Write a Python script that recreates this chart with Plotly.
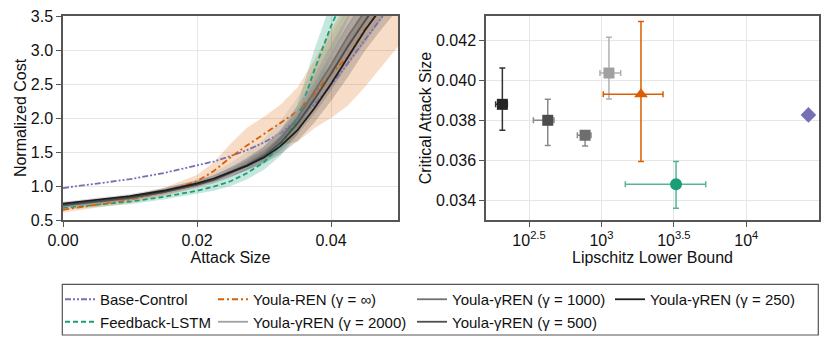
import plotly.graph_objects as go

# ---- left panel: normalized cost vs attack size ----
attack = [0, 0.005, 0.01, 0.015, 0.02, 0.0225, 0.025, 0.0275, 0.03, 0.0325,
          0.035, 0.0375, 0.04, 0.0425, 0.045, 0.0475, 0.05]

base_mean = [0.97, 1.03, 1.10, 1.19, 1.30, 1.36, 1.44, 1.53, 1.64, 1.78, 1.97, 2.20, 2.48, 2.80, 3.14, 3.47, 3.80]

lstm_mean = [0.68, 0.72, 0.77, 0.84, 0.93, 0.99, 1.07, 1.19, 1.35, 1.60, 1.98, 2.70, 3.35, 3.90, 4.40, 4.90, 5.40]
lstm_hi = [0.71, 0.75, 0.80, 0.88, 0.98, 1.05, 1.14, 1.27, 1.45, 1.75, 2.20, 3.00, 3.70, 4.20, 4.70, 5.20, 5.70]
lstm_lo = [0.65, 0.69, 0.73, 0.80, 0.88, 0.93, 1.00, 1.10, 1.24, 1.45, 1.75, 2.30, 2.90, 3.45, 3.90, 4.40, 4.90]

ren_mean = [0.65, 0.72, 0.80, 0.91, 1.07, 1.22, 1.42, 1.60, 1.76, 1.93, 2.10, 2.35, 2.65, 2.90, 3.30, 3.60, 3.90]
ren_hi = [0.69, 0.76, 0.85, 0.97, 1.16, 1.35, 1.62, 1.86, 2.02, 2.20, 2.45, 2.85, 3.30, 3.70, 4.00, 4.20, 4.40]
ren_lo = [0.61, 0.68, 0.75, 0.85, 0.98, 1.08, 1.20, 1.33, 1.48, 1.60, 1.65, 1.85, 2.00, 2.18, 2.45, 2.75, 3.05]

g2000_mean = [0.70, 0.75, 0.82, 0.91, 1.04, 1.13, 1.25, 1.39, 1.56, 1.80, 2.10, 2.50, 2.92, 3.35, 3.75, 4.10, 4.40]
g2000_hi = [0.73, 0.78, 0.86, 0.96, 1.10, 1.20, 1.34, 1.50, 1.69, 1.96, 2.30, 2.75, 3.20, 3.65, 4.10, 4.40, 4.70]
g2000_lo = [0.67, 0.72, 0.78, 0.87, 0.98, 1.06, 1.16, 1.28, 1.43, 1.63, 1.90, 2.25, 2.62, 3.02, 3.40, 3.75, 4.10]

g1000_mean = [0.71, 0.76, 0.82, 0.91, 1.02, 1.09, 1.20, 1.32, 1.47, 1.70, 2.00, 2.38, 2.78, 3.20, 3.58, 3.92, 4.25]
g1000_hi = [0.74, 0.79, 0.86, 0.95, 1.07, 1.15, 1.27, 1.42, 1.58, 1.84, 2.18, 2.62, 3.08, 3.50, 3.90, 4.20, 4.50]
g1000_lo = [0.68, 0.73, 0.79, 0.87, 0.97, 1.04, 1.13, 1.24, 1.37, 1.57, 1.83, 2.15, 2.50, 2.90, 3.30, 3.65, 4.00]

g500_mean = [0.72, 0.77, 0.83, 0.91, 1.02, 1.09, 1.19, 1.30, 1.44, 1.64, 1.92, 2.27, 2.65, 3.05, 3.42, 3.75, 4.10]
g500_hi = [0.75, 0.80, 0.86, 0.95, 1.06, 1.14, 1.26, 1.39, 1.55, 1.78, 2.10, 2.50, 2.92, 3.35, 3.75, 4.10, 4.40]
g500_lo = [0.69, 0.74, 0.80, 0.88, 0.98, 1.04, 1.13, 1.23, 1.35, 1.52, 1.76, 2.06, 2.40, 2.78, 3.10, 3.45, 3.80]

g250_mean = [0.74, 0.79, 0.85, 0.93, 1.04, 1.11, 1.20, 1.30, 1.42, 1.59, 1.82, 2.14, 2.50, 2.90, 3.28, 3.62, 3.95]
g250_hi = [0.77, 0.82, 0.88, 0.97, 1.08, 1.16, 1.27, 1.39, 1.53, 1.74, 2.02, 2.38, 2.78, 3.20, 3.60, 3.95, 4.30]
g250_lo = [0.71, 0.76, 0.82, 0.90, 1.00, 1.06, 1.14, 1.23, 1.33, 1.47, 1.66, 1.93, 2.25, 2.60, 2.98, 3.30, 3.60]

# ---- right panel: critical attack size vs Lipschitz lower bound ----
models = ["γ250", "γ500", "γ1000", "γ2000", "REN", "LSTM", "Base"]
lip = [207, 426, 771, 1127, 1875, 3273, 26850]
lip_lo = [186, 339, 682, 977, 1030, 1462, 26850]
lip_hi = [224, 470, 847, 1358, 2661, 5248, 26850]
crit = [0.03881, 0.03801, 0.03726, 0.04038, 0.03931, 0.03480, 0.03828]
crit_lo = [0.03751, 0.03674, 0.03672, 0.03908, 0.03594, 0.03360, 0.03828]
crit_hi = [0.04063, 0.03906, 0.03749, 0.04217, 0.04297, 0.03594, 0.03828]

purple = "#7570b3"
orange = "#d95f02"
green = "#1b9e77"

fig = go.Figure()

# bands first
bands = [
    (lstm_lo, lstm_hi, "rgba(27,158,119,0.25)"),
    (ren_lo, ren_hi, "rgba(217,95,2,0.22)"),
    (g2000_lo, g2000_hi, "rgba(150,150,150,0.2)"),
    (g1000_lo, g1000_hi, "rgba(110,110,110,0.2)"),
    (g500_lo, g500_hi, "rgba(80,80,80,0.2)"),
    (g250_lo, g250_hi, "rgba(40,40,40,0.2)"),
]
for lo, hi, col in bands:
    fig.add_trace(go.Scatter(x=attack, y=lo, mode="lines", line=dict(width=0),
                             showlegend=False, hoverinfo="skip"))
    fig.add_trace(go.Scatter(x=attack, y=hi, mode="lines", line=dict(width=0),
                             fill="tonexty", fillcolor=col, showlegend=False, hoverinfo="skip"))

# lines, ordered to fill the legend columns
lines = [
    (base_mean, "Base-Control", purple, "6px,2px,2px,2px,2px,2px", "legend"),
    (lstm_mean, "Feedback-LSTM", green, "5px,3px", "legend"),
    (ren_mean, "Youla-REN (γ = ∞)", orange, "6px,3px,2px,3px", "legend2"),
    (g2000_mean, "Youla-γREN (γ = 2000)", "#a0a0a0", "solid", "legend2"),
    (g1000_mean, "Youla-γREN (γ = 1000)", "#707070", "solid", "legend3"),
    (g500_mean, "Youla-γREN (γ = 500)", "#4d4d4d", "solid", "legend3"),
    (g250_mean, "Youla-γREN (γ = 250)", "#1e1e1e", "solid", "legend4"),
]
for ys, name, col, dash, leg in lines:
    fig.add_trace(go.Scatter(x=attack, y=ys, mode="lines", name=name,
                             line=dict(color=col, width=1.8, dash=dash), legend=leg))

# scatter points with error bars
styles = {
    "γ250": ("#252525", "#333333", "square", 11),
    "γ500": ("#4d4d4d", "#8a8a8a", "square", 11),
    "γ1000": ("#6e6e6e", "#8a8a8a", "square", 11),
    "γ2000": ("#a0a0a0", "#b0b0b0", "square", 11),
    "REN": (orange, orange, "triangle-up", 12),
    "LSTM": (green, "rgba(27,158,119,0.75)", "circle", 12),
    "Base": (purple, purple, "diamond", 12),
}
for i, m in enumerate(models):
    mc, ec, sym, sz = styles[m]
    has_err = m != "Base"
    fig.add_trace(go.Scatter(
        x=[lip[i]], y=[crit[i]], mode="markers", showlegend=False,
        marker=dict(color=mc, symbol=sym, size=sz),
        error_x=dict(type="data", symmetric=False, array=[lip_hi[i] - lip[i]],
                     arrayminus=[lip[i] - lip_lo[i]], color=ec, thickness=1.5, width=3,
                     visible=has_err),
        error_y=dict(type="data", symmetric=False, array=[crit_hi[i] - crit[i]],
                     arrayminus=[crit[i] - crit_lo[i]], color=ec, thickness=1.5, width=3,
                     visible=has_err),
        xaxis="x2", yaxis="y2"))

W, H = 830, 346
OFF = 8  # page body margin shifts the figure


def px(x):
    return (x - OFF) / W


def py(y):
    return 1 - (y - OFF) / H


TOP = 16  # top of plot frames (room for the "3.5" tick label)

font = "Liberation Sans, Arial, sans-serif"
axis_common = dict(showline=True, mirror=True, linecolor="#555555", linewidth=1.5,
                   ticks="outside", ticklen=5, tickcolor="#555555", automargin=False,
                   ticklabeloverflow="allow",
                   gridcolor="#e6e6e6", gridwidth=1, zeroline=False,
                   tickfont=dict(size=16, color="#111"), title_font=dict(size=16, color="#111"))

leg_common = dict(orientation="v", xanchor="left", yanchor="top", y=py(283),
                  bgcolor="rgba(0,0,0,0)", borderwidth=0, font=dict(size=15, color="#111"),
                  tracegroupgap=0, traceorder="normal")

fig.update_layout(
    width=W, height=H, margin=dict(l=0, r=0, t=0, b=0, autoexpand=False),
    paper_bgcolor="white", plot_bgcolor="white",
    font=dict(family=font, color="#111"),
    xaxis=dict(domain=[px(63), px(398)], range=[0, 0.05], tickvals=[0, 0.02, 0.04],
               tickformat=".2f", title=dict(text="Attack Size", standoff=2), **axis_common),
    yaxis=dict(domain=[py(220), py(TOP)], range=[0.5, 3.5], dtick=0.5,
               tickformat=".1f", title=dict(text="Normalized Cost", standoff=0), **axis_common),
    xaxis2=dict(domain=[px(486), px(819)], type="log", range=[2.203, 4.502],
                tickvals=[10 ** 2.5, 1000, 10 ** 3.5, 10000],
                ticktext=["10<sup>2.5</sup>", "10<sup>3</sup>", "10<sup>3.5</sup>", "10<sup>4</sup>"],
                title=dict(text="Lipschitz Lower Bound", standoff=2), anchor="y2", **axis_common),
    yaxis2=dict(domain=[py(220), py(TOP)], range=[0.03301, 0.04324],
                tickvals=[0.034, 0.036, 0.038, 0.040, 0.042], tickformat=".3f",
                title=dict(text="Critical Attack Size", standoff=0), anchor="x2", **axis_common),
    legend=dict(x=px(60), **leg_common),
    legend2=dict(x=px(213), **leg_common),
    legend3=dict(x=px(412), **leg_common),
    legend4=dict(x=px(610), **leg_common),
    shapes=[dict(type="rect", xref="paper", yref="paper",
                 x0=px(62.3), x1=px(818.3), y0=py(335), y1=py(284.3),
                 line=dict(color="#555555", width=1.2), fillcolor="rgba(0,0,0,0)")],
)

fig.write_html("out.html")
